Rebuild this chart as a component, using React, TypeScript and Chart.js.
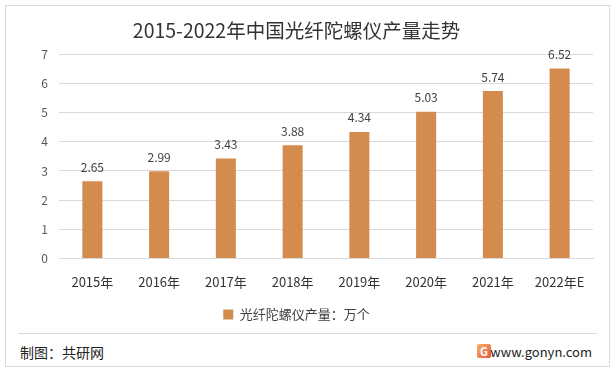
import React, { useEffect, useRef } from "react";
import { Chart, registerables } from "chart.js";

Chart.register(...registerables);

const title = "2015-2022年中国光纤陀螺仪产量走势";
const categories = ["2015年", "2016年", "2017年", "2018年", "2019年", "2020年", "2021年", "2022年E"];
const values = [2.65, 2.99, 3.43, 3.88, 4.34, 5.03, 5.74, 6.52];
const seriesName = "光纤陀螺仪产量：万个";
const footerLeft = "制图：共研网";
const footerRight = "www.gonyn.com";
const barColor = "#D48C4E";
const FONT = "'Noto Sans CJK SC', 'Noto Sans', sans-serif";

const labelPlugin = {
  id: "barLabels",
  afterDatasetsDraw(chart: any) {
    const ctx = chart.ctx;
    const meta = chart.getDatasetMeta(0);
    ctx.save();
    ctx.font = `12px ${FONT}`;
    ctx.fillStyle = "#404040";
    ctx.textAlign = "center";
    ctx.textBaseline = "middle";
    meta.data.forEach((el: any, i: number) => {
      ctx.fillText(values[i].toFixed(2), el.x, el.y - 14);
    });
    ctx.restore();
  },
};

export default function App() {
  const ref = useRef<HTMLCanvasElement>(null);
  useEffect(() => {
    const chart = new Chart(ref.current!, {
      type: "bar",
      data: {
        labels: categories,
        datasets: [
          {
            label: seriesName,
            data: values,
            backgroundColor: barColor,
            categoryPercentage: 1,
            barPercentage: 0.3,
          },
        ],
      },
      plugins: [labelPlugin],
      options: {
        animation: false,
        responsive: false,
        layout: { padding: { left: 0, right: 23, top: 15, bottom: 0 } },
        plugins: {
          title: {
            display: true,
            text: title,
            color: "#333333",
            font: { family: FONT, size: 19.5, weight: "normal" },
            padding: { top: 4, bottom: 12 },
          },
          legend: {
            position: "bottom",
            labels: {
              color: "#404040",
              font: { family: FONT, size: 13 },
              boxWidth: 10,
              boxHeight: 10,
              padding: 10,
            },
          },
          tooltip: { enabled: false },
        },
        scales: {
          x: {
            grid: { display: false },
            border: { color: "#D9D9D9" },
            ticks: { color: "#333333", font: { family: FONT, size: 13 }, padding: 8 },
          },
          y: {
            min: 0,
            max: 7,
            ticks: { stepSize: 1, color: "#595959", font: { family: FONT, size: 12 }, padding: 11 },
            grid: { color: "#D9D9D9", drawTicks: false },
            border: { display: false },
            afterFit: (s: any) => {
              s.width = 59;
            },
          },
        },
      },
    });
    return () => chart.destroy();
  }, []);
  return (
    <div style={{ position: "fixed", left: 0, top: 0, width: 616, height: 375, background: "#fff", overflow: "hidden" }}>
      <div style={{ position: "absolute", left: 5, top: 5, width: 605, height: 362, border: "1px solid #D9D9D9", boxSizing: "border-box" }} />
      <canvas ref={ref} width={616} height={331} style={{ position: "absolute", left: 0, top: 0 }} />
      <div style={{ position: "absolute", left: 18, top: 333, width: 579, height: 1, background: "#D9D9D9" }} />
      <div style={{ position: "absolute", left: 20, top: 342, fontFamily: FONT, fontSize: 14, color: "#222", lineHeight: "20px" }}>{footerLeft}</div>
      <div style={{ position: "absolute", left: 477, top: 344, width: 14, height: 14, borderRadius: 2, background: "linear-gradient(135deg,#F6B36A,#E8553E)", color: "#fff", fontFamily: FONT, fontSize: 11, fontWeight: "bold", lineHeight: "14px", textAlign: "center" }}>G</div>
      <div style={{ position: "absolute", right: 24, top: 342, fontFamily: FONT, fontSize: 13, color: "#222", lineHeight: "20px" }}>{footerRight}</div>
    </div>
  );
}
